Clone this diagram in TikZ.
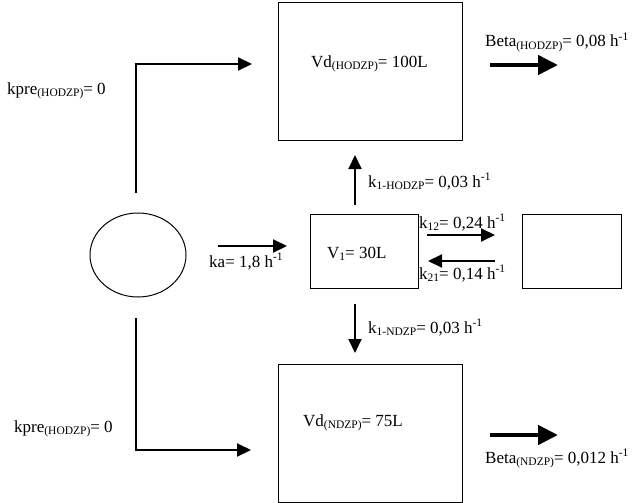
\documentclass[tikz,border=0pt]{standalone}
\usepackage{fontspec}
\setmainfont{Liberation Serif}
\usetikzlibrary{arrows.meta,shapes.geometric}
\newcommand{\sbs}[1]{\raisebox{-0.35ex}{\fontsize{11.5}{12}\selectfont #1}}
\newcommand{\sps}[1]{\raisebox{0.85ex}{\fontsize{11.5}{12}\selectfont #1}}
\begin{document}
\begin{tikzpicture}[x=1pt,y=-1pt,
  font=\fontsize{17}{20}\selectfont,
  box/.style={draw, line width=1pt, inner sep=0pt},
  lbl/.style={inner sep=0pt, anchor=base west},
  con/.style={line width=2pt, -{Triangle[length=14pt,width=13pt]}},
  bigarrow/.style={line width=4.5pt, -{Triangle[length=20pt,width=19pt]}}
]
\useasboundingbox (0,0) rectangle (632,503);
% boxes
\node[box, minimum width=184pt, minimum height=137pt] (top) at (370,71.5) {};
\node[box, minimum width=184pt, minimum height=138pt] (bot) at (370,433) {};
\node[box, minimum width=108pt, minimum height=74pt] (v1) at (364,251) {};
\node[box, minimum width=99pt, minimum height=74pt] (per) at (571.5,251) {};
\node[draw, line width=1pt, ellipse, minimum width=96pt, minimum height=84pt, inner sep=0pt] (gut) at (138,255) {};
% texts
\node[lbl] (tvd) at (311,67) {Vd\sbs{(HODZP)}= 100L};
\node[lbl] (tbt) at (485,47) {Beta\sbs{(HODZP)}= 0,08 h\sps{-1}};
\node[lbl] (tkp1) at (7,94) {kpre\sbs{(HODZP)}= 0};
\node[lbl] (tka) at (209,267) {ka= 1,8 h\sps{-1}};
\node[lbl] (tv1) at (327,258) {V\sbs{1}= 30L};
\node[lbl] (tk12) at (419,228) {k\sbs{12}= 0,24 h\sps{-1}};
\node[lbl] (tk21) at (419,279) {k\sbs{21}= 0,14 h\sps{-1}};
\node[lbl] (tkh) at (368,187) {k\sbs{1-HODZP}= 0,03 h\sps{-1}};
\node[lbl] (tkn) at (368,333) {k\sbs{1-NDZP}= 0,03 h\sps{-1}};
\node[lbl] (tkp2) at (14,432) {kpre\sbs{(HODZP)}= 0};
\node[lbl] (tvn) at (303,426) {Vd\sbs{(NDZP)}= 75L};
\node[lbl] (tbn) at (485,463) {Beta\sbs{(NDZP)}= 0,012 h\sps{-1}};
% connector end points
\coordinate (tl1) at (136,193);
\coordinate (tl2) at (252,64);
\coordinate (bl1) at (136,318);
\coordinate (bl2) at (251,450);
\coordinate (ka1) at (218,246);
\coordinate (ka2) at (287,246);
\coordinate (k12a) at (427,235);
\coordinate (k12b) at (495,235);
\coordinate (k21a) at (495,261);
\coordinate (k21b) at (428,261);
\coordinate (kha) at (355,205);
\coordinate (khb) at (355,155);
\coordinate (kna) at (355,304);
\coordinate (knb) at (355,353);
\coordinate (bta) at (490,65);
\coordinate (btb) at (558,65);
\coordinate (bna) at (490,435);
\coordinate (bnb) at (558,435);
% connectors
\draw[con] (tl1) |- (tl2);
\draw[con] (bl1) |- (bl2);
\draw[con] (ka1) -- (ka2);
\draw[con] (k12a) -- (k12b);
\draw[con] (k21a) -- (k21b);
\draw[con] (kha) -- (khb);
\draw[con] (kna) -- (knb);
\draw[bigarrow] (bta) -- (btb);
\draw[bigarrow] (bna) -- (bnb);
\end{tikzpicture}
\end{document}
